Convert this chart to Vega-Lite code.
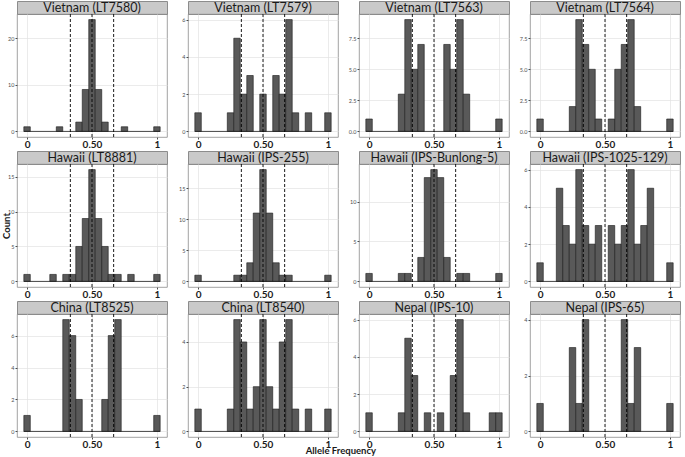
{
"$schema": "https://vega.github.io/schema/vega-lite/v6.json",
"padding": {"left": 1, "top": 0, "right": 2, "bottom": 0},
"background": "white",
"title": {"text": "Allele Frequency", "orient": "bottom", "anchor": "middle", "font": "Lato", "fontSize": 9.5, "fontWeight": "bold", "color": "#1a1a1a", "offset": -3},
"datasets": {
"strips": [{"p":"Vietnam (LT7580)"},{"p":"Vietnam (LT7579)"},{"p":"Vietnam (LT7563)"},{"p":"Vietnam (LT7564)"},{"p":"Hawaii (LT8881)"},{"p":"Hawaii (IPS-255)"},{"p":"Hawaii (IPS-Bunlong-5)"},{"p":"Hawaii (IPS-1025-129)"},{"p":"China (LT8525)"},{"p":"China (LT8540)"},{"p":"Nepal (IPS-10)"},{"p":"Nepal (IPS-65)"}],
"lines": [{"v":0.3333},{"v":0.5},{"v":0.6667}],
"base": [{"x0":-0.025,"x1":1.025,"y":0}],
"h": [
{"p":"Vietnam (LT7580)","lo":-0.025,"hi":0.025,"n":1},
{"p":"Vietnam (LT7580)","lo":0.225,"hi":0.275,"n":1},
{"p":"Vietnam (LT7580)","lo":0.375,"hi":0.425,"n":2},
{"p":"Vietnam (LT7580)","lo":0.425,"hi":0.475,"n":9},
{"p":"Vietnam (LT7580)","lo":0.475,"hi":0.525,"n":24},
{"p":"Vietnam (LT7580)","lo":0.525,"hi":0.575,"n":9},
{"p":"Vietnam (LT7580)","lo":0.575,"hi":0.625,"n":2},
{"p":"Vietnam (LT7580)","lo":0.725,"hi":0.775,"n":1},
{"p":"Vietnam (LT7580)","lo":0.975,"hi":1.025,"n":1},
{"p":"Vietnam (LT7579)","lo":-0.025,"hi":0.025,"n":1},
{"p":"Vietnam (LT7579)","lo":0.225,"hi":0.275,"n":1},
{"p":"Vietnam (LT7579)","lo":0.275,"hi":0.325,"n":5},
{"p":"Vietnam (LT7579)","lo":0.325,"hi":0.375,"n":2},
{"p":"Vietnam (LT7579)","lo":0.375,"hi":0.425,"n":3},
{"p":"Vietnam (LT7579)","lo":0.475,"hi":0.525,"n":2},
{"p":"Vietnam (LT7579)","lo":0.575,"hi":0.625,"n":3},
{"p":"Vietnam (LT7579)","lo":0.625,"hi":0.675,"n":2},
{"p":"Vietnam (LT7579)","lo":0.675,"hi":0.725,"n":6},
{"p":"Vietnam (LT7579)","lo":0.725,"hi":0.775,"n":1},
{"p":"Vietnam (LT7579)","lo":0.825,"hi":0.875,"n":1},
{"p":"Vietnam (LT7579)","lo":0.975,"hi":1.025,"n":1},
{"p":"Vietnam (LT7563)","lo":-0.025,"hi":0.025,"n":1},
{"p":"Vietnam (LT7563)","lo":0.225,"hi":0.275,"n":3},
{"p":"Vietnam (LT7563)","lo":0.275,"hi":0.325,"n":9},
{"p":"Vietnam (LT7563)","lo":0.325,"hi":0.375,"n":5},
{"p":"Vietnam (LT7563)","lo":0.375,"hi":0.425,"n":7},
{"p":"Vietnam (LT7563)","lo":0.575,"hi":0.625,"n":7},
{"p":"Vietnam (LT7563)","lo":0.625,"hi":0.675,"n":5},
{"p":"Vietnam (LT7563)","lo":0.675,"hi":0.725,"n":9},
{"p":"Vietnam (LT7563)","lo":0.725,"hi":0.775,"n":3},
{"p":"Vietnam (LT7563)","lo":0.975,"hi":1.025,"n":1},
{"p":"Vietnam (LT7564)","lo":-0.025,"hi":0.025,"n":1},
{"p":"Vietnam (LT7564)","lo":0.225,"hi":0.275,"n":2},
{"p":"Vietnam (LT7564)","lo":0.275,"hi":0.325,"n":9},
{"p":"Vietnam (LT7564)","lo":0.325,"hi":0.375,"n":7},
{"p":"Vietnam (LT7564)","lo":0.375,"hi":0.425,"n":5},
{"p":"Vietnam (LT7564)","lo":0.425,"hi":0.475,"n":1},
{"p":"Vietnam (LT7564)","lo":0.525,"hi":0.575,"n":1},
{"p":"Vietnam (LT7564)","lo":0.575,"hi":0.625,"n":5},
{"p":"Vietnam (LT7564)","lo":0.625,"hi":0.675,"n":7},
{"p":"Vietnam (LT7564)","lo":0.675,"hi":0.725,"n":9},
{"p":"Vietnam (LT7564)","lo":0.725,"hi":0.775,"n":2},
{"p":"Vietnam (LT7564)","lo":0.975,"hi":1.025,"n":1},
{"p":"Hawaii (LT8881)","lo":-0.025,"hi":0.025,"n":1},
{"p":"Hawaii (LT8881)","lo":0.175,"hi":0.225,"n":1},
{"p":"Hawaii (LT8881)","lo":0.275,"hi":0.325,"n":1},
{"p":"Hawaii (LT8881)","lo":0.325,"hi":0.375,"n":1},
{"p":"Hawaii (LT8881)","lo":0.375,"hi":0.425,"n":5},
{"p":"Hawaii (LT8881)","lo":0.425,"hi":0.475,"n":9},
{"p":"Hawaii (LT8881)","lo":0.475,"hi":0.525,"n":16},
{"p":"Hawaii (LT8881)","lo":0.525,"hi":0.575,"n":9},
{"p":"Hawaii (LT8881)","lo":0.575,"hi":0.625,"n":5},
{"p":"Hawaii (LT8881)","lo":0.625,"hi":0.675,"n":1},
{"p":"Hawaii (LT8881)","lo":0.675,"hi":0.725,"n":1},
{"p":"Hawaii (LT8881)","lo":0.775,"hi":0.825,"n":1},
{"p":"Hawaii (LT8881)","lo":0.975,"hi":1.025,"n":1},
{"p":"Hawaii (IPS-255)","lo":-0.025,"hi":0.025,"n":1},
{"p":"Hawaii (IPS-255)","lo":0.275,"hi":0.325,"n":1},
{"p":"Hawaii (IPS-255)","lo":0.325,"hi":0.375,"n":1},
{"p":"Hawaii (IPS-255)","lo":0.375,"hi":0.425,"n":3},
{"p":"Hawaii (IPS-255)","lo":0.425,"hi":0.475,"n":11},
{"p":"Hawaii (IPS-255)","lo":0.475,"hi":0.525,"n":18},
{"p":"Hawaii (IPS-255)","lo":0.525,"hi":0.575,"n":11},
{"p":"Hawaii (IPS-255)","lo":0.575,"hi":0.625,"n":3},
{"p":"Hawaii (IPS-255)","lo":0.625,"hi":0.675,"n":1},
{"p":"Hawaii (IPS-255)","lo":0.675,"hi":0.725,"n":1},
{"p":"Hawaii (IPS-255)","lo":0.975,"hi":1.025,"n":1},
{"p":"Hawaii (IPS-Bunlong-5)","lo":-0.025,"hi":0.025,"n":1},
{"p":"Hawaii (IPS-Bunlong-5)","lo":0.225,"hi":0.275,"n":1},
{"p":"Hawaii (IPS-Bunlong-5)","lo":0.275,"hi":0.325,"n":1},
{"p":"Hawaii (IPS-Bunlong-5)","lo":0.375,"hi":0.425,"n":3},
{"p":"Hawaii (IPS-Bunlong-5)","lo":0.425,"hi":0.475,"n":13},
{"p":"Hawaii (IPS-Bunlong-5)","lo":0.475,"hi":0.525,"n":14},
{"p":"Hawaii (IPS-Bunlong-5)","lo":0.525,"hi":0.575,"n":13},
{"p":"Hawaii (IPS-Bunlong-5)","lo":0.575,"hi":0.625,"n":3},
{"p":"Hawaii (IPS-Bunlong-5)","lo":0.675,"hi":0.725,"n":1},
{"p":"Hawaii (IPS-Bunlong-5)","lo":0.725,"hi":0.775,"n":1},
{"p":"Hawaii (IPS-Bunlong-5)","lo":0.975,"hi":1.025,"n":1},
{"p":"Hawaii (IPS-1025-129)","lo":-0.025,"hi":0.025,"n":1},
{"p":"Hawaii (IPS-1025-129)","lo":0.125,"hi":0.175,"n":5},
{"p":"Hawaii (IPS-1025-129)","lo":0.175,"hi":0.225,"n":3},
{"p":"Hawaii (IPS-1025-129)","lo":0.225,"hi":0.275,"n":2},
{"p":"Hawaii (IPS-1025-129)","lo":0.275,"hi":0.325,"n":6},
{"p":"Hawaii (IPS-1025-129)","lo":0.325,"hi":0.375,"n":3},
{"p":"Hawaii (IPS-1025-129)","lo":0.375,"hi":0.425,"n":2},
{"p":"Hawaii (IPS-1025-129)","lo":0.425,"hi":0.475,"n":3},
{"p":"Hawaii (IPS-1025-129)","lo":0.525,"hi":0.575,"n":3},
{"p":"Hawaii (IPS-1025-129)","lo":0.575,"hi":0.625,"n":2},
{"p":"Hawaii (IPS-1025-129)","lo":0.625,"hi":0.675,"n":3},
{"p":"Hawaii (IPS-1025-129)","lo":0.675,"hi":0.725,"n":6},
{"p":"Hawaii (IPS-1025-129)","lo":0.725,"hi":0.775,"n":2},
{"p":"Hawaii (IPS-1025-129)","lo":0.775,"hi":0.825,"n":3},
{"p":"Hawaii (IPS-1025-129)","lo":0.825,"hi":0.875,"n":5},
{"p":"Hawaii (IPS-1025-129)","lo":0.975,"hi":1.025,"n":1},
{"p":"China (LT8525)","lo":-0.025,"hi":0.025,"n":1},
{"p":"China (LT8525)","lo":0.275,"hi":0.325,"n":7},
{"p":"China (LT8525)","lo":0.325,"hi":0.375,"n":6},
{"p":"China (LT8525)","lo":0.375,"hi":0.425,"n":2},
{"p":"China (LT8525)","lo":0.575,"hi":0.625,"n":2},
{"p":"China (LT8525)","lo":0.625,"hi":0.675,"n":6},
{"p":"China (LT8525)","lo":0.675,"hi":0.725,"n":7},
{"p":"China (LT8525)","lo":0.975,"hi":1.025,"n":1},
{"p":"China (LT8540)","lo":-0.025,"hi":0.025,"n":1},
{"p":"China (LT8540)","lo":0.225,"hi":0.275,"n":1},
{"p":"China (LT8540)","lo":0.275,"hi":0.325,"n":5},
{"p":"China (LT8540)","lo":0.325,"hi":0.375,"n":4},
{"p":"China (LT8540)","lo":0.375,"hi":0.425,"n":1},
{"p":"China (LT8540)","lo":0.425,"hi":0.475,"n":2},
{"p":"China (LT8540)","lo":0.475,"hi":0.525,"n":5},
{"p":"China (LT8540)","lo":0.525,"hi":0.575,"n":2},
{"p":"China (LT8540)","lo":0.575,"hi":0.625,"n":1},
{"p":"China (LT8540)","lo":0.625,"hi":0.675,"n":4},
{"p":"China (LT8540)","lo":0.675,"hi":0.725,"n":5},
{"p":"China (LT8540)","lo":0.725,"hi":0.775,"n":1},
{"p":"China (LT8540)","lo":0.825,"hi":0.875,"n":1},
{"p":"China (LT8540)","lo":0.975,"hi":1.025,"n":1},
{"p":"Nepal (IPS-10)","lo":-0.025,"hi":0.025,"n":1},
{"p":"Nepal (IPS-10)","lo":0.225,"hi":0.275,"n":1},
{"p":"Nepal (IPS-10)","lo":0.275,"hi":0.325,"n":5},
{"p":"Nepal (IPS-10)","lo":0.325,"hi":0.375,"n":3},
{"p":"Nepal (IPS-10)","lo":0.425,"hi":0.475,"n":1},
{"p":"Nepal (IPS-10)","lo":0.525,"hi":0.575,"n":1},
{"p":"Nepal (IPS-10)","lo":0.625,"hi":0.675,"n":3},
{"p":"Nepal (IPS-10)","lo":0.675,"hi":0.725,"n":6},
{"p":"Nepal (IPS-10)","lo":0.725,"hi":0.775,"n":1},
{"p":"Nepal (IPS-10)","lo":0.925,"hi":0.975,"n":1},
{"p":"Nepal (IPS-10)","lo":0.975,"hi":1.025,"n":1},
{"p":"Nepal (IPS-65)","lo":-0.025,"hi":0.025,"n":1},
{"p":"Nepal (IPS-65)","lo":0.225,"hi":0.275,"n":3},
{"p":"Nepal (IPS-65)","lo":0.275,"hi":0.325,"n":1},
{"p":"Nepal (IPS-65)","lo":0.325,"hi":0.375,"n":4},
{"p":"Nepal (IPS-65)","lo":0.625,"hi":0.675,"n":4},
{"p":"Nepal (IPS-65)","lo":0.675,"hi":0.725,"n":1},
{"p":"Nepal (IPS-65)","lo":0.725,"hi":0.775,"n":3},
{"p":"Nepal (IPS-65)","lo":0.975,"hi":1.025,"n":1}
]
},
"columns": 4,
"spacing": {"row": 0, "column": 7},
"concat": [
{"vconcat": [
 {"width":150,"height":13,"data":{"name":"strips"},"transform":[{"filter":"datum.p=='Vietnam (LT7580)'"}],"view":{"fill":"#c9c9c9","stroke":"#8c8c8c"},"mark":{"type":"text","font":"Lato","fontSize":12.5,"color":"#1a1a1a","baseline":"middle"},"encoding":{"text":{"field":"p"}}},
 {"width":150,"height":123,"layer":[
  {"data":{"name":"h"},"transform":[{"filter":"datum.p=='Vietnam (LT7580)'"}],"mark":{"type":"rect","fill":"#595959","stroke":"#1a1a1a","strokeWidth":0.6},
   "encoding":{"x":{"field":"lo","type":"quantitative","scale":{"domain":[-0.0775,1.0775],"nice":false,"zero":false},"axis":{"title":null,"values":[0,0.125,0.25,0.375,0.5,0.625,0.75,0.875,1],"labelExpr":"indexof([0.125,0.375,0.625,0.875], datum.value) >= 0 ? '' : datum.value == 0 ? '0' : datum.value == 1 ? '1' : format(datum.value, '.2f')","gridWidth":{"condition":{"test":"indexof([0.125,0.375,0.625,0.875], datum.value) >= 0","value":0.35},"value":0.7},"tickOpacity":{"condition":{"test":"indexof([0.125,0.375,0.625,0.875], datum.value) >= 0","value":0},"value":1}}},
   "x2":{"field":"hi"},
   "y":{"field":"n","type":"quantitative","scale":{"domain":[-1.2,25.2],"nice":false,"zero":false},"axis":{"title":null,"values":[0,2.5,5,7.5,10,12.5,15,17.5,20,22.5,25],"labelExpr":"datum.value % 5 == 0 ? format(datum.value, 'd') : ''","gridWidth":{"condition":{"test":"datum.value % 5 != 0","value":0.35},"value":0.7},"tickOpacity":{"condition":{"test":"datum.value % 5 != 0","value":0},"value":1}}},
   "y2":{"datum":0}}},
  {"data":{"name":"base"},"mark":{"type":"rule","color":"#1a1a1a","strokeWidth":0.8},"encoding":{"x":{"field":"x0","type":"quantitative","axis":{"title":null}},"x2":{"field":"x1"},"y":{"field":"y","type":"quantitative","axis":{"title":null}}}},
  {"data":{"name":"lines"},"mark":{"type":"rule","color":"#000000","strokeWidth":0.9,"strokeDash":[3,2]},"encoding":{"x":{"field":"v","type":"quantitative","axis":{"title":null}}}}
 ]}
], "spacing": 0, "bounds": "flush"},
{"vconcat": [
 {"width":150,"height":13,"data":{"name":"strips"},"transform":[{"filter":"datum.p=='Vietnam (LT7579)'"}],"view":{"fill":"#c9c9c9","stroke":"#8c8c8c"},"mark":{"type":"text","font":"Lato","fontSize":12.5,"color":"#1a1a1a","baseline":"middle"},"encoding":{"text":{"field":"p"}}},
 {"width":150,"height":123,"layer":[
  {"data":{"name":"h"},"transform":[{"filter":"datum.p=='Vietnam (LT7579)'"}],"mark":{"type":"rect","fill":"#595959","stroke":"#1a1a1a","strokeWidth":0.6},
   "encoding":{"x":{"field":"lo","type":"quantitative","scale":{"domain":[-0.0775,1.0775],"nice":false,"zero":false},"axis":{"title":null,"values":[0,0.125,0.25,0.375,0.5,0.625,0.75,0.875,1],"labelExpr":"indexof([0.125,0.375,0.625,0.875], datum.value) >= 0 ? '' : datum.value == 0 ? '0' : datum.value == 1 ? '1' : format(datum.value, '.2f')","gridWidth":{"condition":{"test":"indexof([0.125,0.375,0.625,0.875], datum.value) >= 0","value":0.35},"value":0.7},"tickOpacity":{"condition":{"test":"indexof([0.125,0.375,0.625,0.875], datum.value) >= 0","value":0},"value":1}}},
   "x2":{"field":"hi"},
   "y":{"field":"n","type":"quantitative","scale":{"domain":[-0.3,6.3],"nice":false,"zero":false},"axis":{"title":null,"values":[0,1,2,3,4,5,6],"labelExpr":"datum.value % 2 == 0 ? format(datum.value, 'd') : ''","gridWidth":{"condition":{"test":"datum.value % 2 != 0","value":0.35},"value":0.7},"tickOpacity":{"condition":{"test":"datum.value % 2 != 0","value":0},"value":1}}},
   "y2":{"datum":0}}},
  {"data":{"name":"base"},"mark":{"type":"rule","color":"#1a1a1a","strokeWidth":0.8},"encoding":{"x":{"field":"x0","type":"quantitative","axis":{"title":null}},"x2":{"field":"x1"},"y":{"field":"y","type":"quantitative","axis":{"title":null}}}},
  {"data":{"name":"lines"},"mark":{"type":"rule","color":"#000000","strokeWidth":0.9,"strokeDash":[3,2]},"encoding":{"x":{"field":"v","type":"quantitative","axis":{"title":null}}}}
 ]}
], "spacing": 0, "bounds": "flush"},
{"vconcat": [
 {"width":150,"height":13,"data":{"name":"strips"},"transform":[{"filter":"datum.p=='Vietnam (LT7563)'"}],"view":{"fill":"#c9c9c9","stroke":"#8c8c8c"},"mark":{"type":"text","font":"Lato","fontSize":12.5,"color":"#1a1a1a","baseline":"middle"},"encoding":{"text":{"field":"p"}}},
 {"width":150,"height":123,"layer":[
  {"data":{"name":"h"},"transform":[{"filter":"datum.p=='Vietnam (LT7563)'"}],"mark":{"type":"rect","fill":"#595959","stroke":"#1a1a1a","strokeWidth":0.6},
   "encoding":{"x":{"field":"lo","type":"quantitative","scale":{"domain":[-0.0775,1.0775],"nice":false,"zero":false},"axis":{"title":null,"values":[0,0.125,0.25,0.375,0.5,0.625,0.75,0.875,1],"labelExpr":"indexof([0.125,0.375,0.625,0.875], datum.value) >= 0 ? '' : datum.value == 0 ? '0' : datum.value == 1 ? '1' : format(datum.value, '.2f')","gridWidth":{"condition":{"test":"indexof([0.125,0.375,0.625,0.875], datum.value) >= 0","value":0.35},"value":0.7},"tickOpacity":{"condition":{"test":"indexof([0.125,0.375,0.625,0.875], datum.value) >= 0","value":0},"value":1}}},
   "x2":{"field":"hi"},
   "y":{"field":"n","type":"quantitative","scale":{"domain":[-0.45,9.45],"nice":false,"zero":false},"axis":{"title":null,"values":[0,1.25,2.5,3.75,5,6.25,7.5,8.75],"labelExpr":"datum.value % 2.5 == 0 ? format(datum.value, '.1f') : ''","gridWidth":{"condition":{"test":"datum.value % 2.5 != 0","value":0.35},"value":0.7},"tickOpacity":{"condition":{"test":"datum.value % 2.5 != 0","value":0},"value":1}}},
   "y2":{"datum":0}}},
  {"data":{"name":"base"},"mark":{"type":"rule","color":"#1a1a1a","strokeWidth":0.8},"encoding":{"x":{"field":"x0","type":"quantitative","axis":{"title":null}},"x2":{"field":"x1"},"y":{"field":"y","type":"quantitative","axis":{"title":null}}}},
  {"data":{"name":"lines"},"mark":{"type":"rule","color":"#000000","strokeWidth":0.9,"strokeDash":[3,2]},"encoding":{"x":{"field":"v","type":"quantitative","axis":{"title":null}}}}
 ]}
], "spacing": 0, "bounds": "flush"},
{"vconcat": [
 {"width":150,"height":13,"data":{"name":"strips"},"transform":[{"filter":"datum.p=='Vietnam (LT7564)'"}],"view":{"fill":"#c9c9c9","stroke":"#8c8c8c"},"mark":{"type":"text","font":"Lato","fontSize":12.5,"color":"#1a1a1a","baseline":"middle"},"encoding":{"text":{"field":"p"}}},
 {"width":150,"height":123,"layer":[
  {"data":{"name":"h"},"transform":[{"filter":"datum.p=='Vietnam (LT7564)'"}],"mark":{"type":"rect","fill":"#595959","stroke":"#1a1a1a","strokeWidth":0.6},
   "encoding":{"x":{"field":"lo","type":"quantitative","scale":{"domain":[-0.0775,1.0775],"nice":false,"zero":false},"axis":{"title":null,"values":[0,0.125,0.25,0.375,0.5,0.625,0.75,0.875,1],"labelExpr":"indexof([0.125,0.375,0.625,0.875], datum.value) >= 0 ? '' : datum.value == 0 ? '0' : datum.value == 1 ? '1' : format(datum.value, '.2f')","gridWidth":{"condition":{"test":"indexof([0.125,0.375,0.625,0.875], datum.value) >= 0","value":0.35},"value":0.7},"tickOpacity":{"condition":{"test":"indexof([0.125,0.375,0.625,0.875], datum.value) >= 0","value":0},"value":1}}},
   "x2":{"field":"hi"},
   "y":{"field":"n","type":"quantitative","scale":{"domain":[-0.45,9.45],"nice":false,"zero":false},"axis":{"title":null,"values":[0,1.25,2.5,3.75,5,6.25,7.5,8.75],"labelExpr":"datum.value % 2.5 == 0 ? format(datum.value, '.1f') : ''","gridWidth":{"condition":{"test":"datum.value % 2.5 != 0","value":0.35},"value":0.7},"tickOpacity":{"condition":{"test":"datum.value % 2.5 != 0","value":0},"value":1}}},
   "y2":{"datum":0}}},
  {"data":{"name":"base"},"mark":{"type":"rule","color":"#1a1a1a","strokeWidth":0.8},"encoding":{"x":{"field":"x0","type":"quantitative","axis":{"title":null}},"x2":{"field":"x1"},"y":{"field":"y","type":"quantitative","axis":{"title":null}}}},
  {"data":{"name":"lines"},"mark":{"type":"rule","color":"#000000","strokeWidth":0.9,"strokeDash":[3,2]},"encoding":{"x":{"field":"v","type":"quantitative","axis":{"title":null}}}}
 ]}
], "spacing": 0, "bounds": "flush"},
{"vconcat": [
 {"width":150,"height":13,"data":{"name":"strips"},"transform":[{"filter":"datum.p=='Hawaii (LT8881)'"}],"view":{"fill":"#c9c9c9","stroke":"#8c8c8c"},"mark":{"type":"text","font":"Lato","fontSize":12.5,"color":"#1a1a1a","baseline":"middle"},"encoding":{"text":{"field":"p"}}},
 {"width":150,"height":123,"layer":[
  {"data":{"name":"h"},"transform":[{"filter":"datum.p=='Hawaii (LT8881)'"}],"mark":{"type":"rect","fill":"#595959","stroke":"#1a1a1a","strokeWidth":0.6},
   "encoding":{"x":{"field":"lo","type":"quantitative","scale":{"domain":[-0.0775,1.0775],"nice":false,"zero":false},"axis":{"title":null,"values":[0,0.125,0.25,0.375,0.5,0.625,0.75,0.875,1],"labelExpr":"indexof([0.125,0.375,0.625,0.875], datum.value) >= 0 ? '' : datum.value == 0 ? '0' : datum.value == 1 ? '1' : format(datum.value, '.2f')","gridWidth":{"condition":{"test":"indexof([0.125,0.375,0.625,0.875], datum.value) >= 0","value":0.35},"value":0.7},"tickOpacity":{"condition":{"test":"indexof([0.125,0.375,0.625,0.875], datum.value) >= 0","value":0},"value":1}}},
   "x2":{"field":"hi"},
   "y":{"field":"n","type":"quantitative","scale":{"domain":[-0.8,16.8],"nice":false,"zero":false},"axis":{"title":"Count","titleFont":"Lato","titleFontSize":9.5,"titleFontWeight":"bold","titleColor":"#1a1a1a","titlePadding":-4,"minExtent":0,"values":[0,2.5,5,7.5,10,12.5,15],"labelExpr":"datum.value % 5 == 0 ? format(datum.value, 'd') : ''","gridWidth":{"condition":{"test":"datum.value % 5 != 0","value":0.35},"value":0.7},"tickOpacity":{"condition":{"test":"datum.value % 5 != 0","value":0},"value":1}}},
   "y2":{"datum":0}}},
  {"data":{"name":"base"},"mark":{"type":"rule","color":"#1a1a1a","strokeWidth":0.8},"encoding":{"x":{"field":"x0","type":"quantitative","axis":{"title":null}},"x2":{"field":"x1"},"y":{"field":"y","type":"quantitative","axis":{"title":"Count"}}}},
  {"data":{"name":"lines"},"mark":{"type":"rule","color":"#000000","strokeWidth":0.9,"strokeDash":[3,2]},"encoding":{"x":{"field":"v","type":"quantitative","axis":{"title":null}}}}
 ]}
], "spacing": 0, "bounds": "flush"},
{"vconcat": [
 {"width":150,"height":13,"data":{"name":"strips"},"transform":[{"filter":"datum.p=='Hawaii (IPS-255)'"}],"view":{"fill":"#c9c9c9","stroke":"#8c8c8c"},"mark":{"type":"text","font":"Lato","fontSize":12.5,"color":"#1a1a1a","baseline":"middle"},"encoding":{"text":{"field":"p"}}},
 {"width":150,"height":123,"layer":[
  {"data":{"name":"h"},"transform":[{"filter":"datum.p=='Hawaii (IPS-255)'"}],"mark":{"type":"rect","fill":"#595959","stroke":"#1a1a1a","strokeWidth":0.6},
   "encoding":{"x":{"field":"lo","type":"quantitative","scale":{"domain":[-0.0775,1.0775],"nice":false,"zero":false},"axis":{"title":null,"values":[0,0.125,0.25,0.375,0.5,0.625,0.75,0.875,1],"labelExpr":"indexof([0.125,0.375,0.625,0.875], datum.value) >= 0 ? '' : datum.value == 0 ? '0' : datum.value == 1 ? '1' : format(datum.value, '.2f')","gridWidth":{"condition":{"test":"indexof([0.125,0.375,0.625,0.875], datum.value) >= 0","value":0.35},"value":0.7},"tickOpacity":{"condition":{"test":"indexof([0.125,0.375,0.625,0.875], datum.value) >= 0","value":0},"value":1}}},
   "x2":{"field":"hi"},
   "y":{"field":"n","type":"quantitative","scale":{"domain":[-0.9,18.9],"nice":false,"zero":false},"axis":{"title":null,"values":[0,2.5,5,7.5,10,12.5,15,17.5],"labelExpr":"datum.value % 5 == 0 ? format(datum.value, 'd') : ''","gridWidth":{"condition":{"test":"datum.value % 5 != 0","value":0.35},"value":0.7},"tickOpacity":{"condition":{"test":"datum.value % 5 != 0","value":0},"value":1}}},
   "y2":{"datum":0}}},
  {"data":{"name":"base"},"mark":{"type":"rule","color":"#1a1a1a","strokeWidth":0.8},"encoding":{"x":{"field":"x0","type":"quantitative","axis":{"title":null}},"x2":{"field":"x1"},"y":{"field":"y","type":"quantitative","axis":{"title":null}}}},
  {"data":{"name":"lines"},"mark":{"type":"rule","color":"#000000","strokeWidth":0.9,"strokeDash":[3,2]},"encoding":{"x":{"field":"v","type":"quantitative","axis":{"title":null}}}}
 ]}
], "spacing": 0, "bounds": "flush"},
{"vconcat": [
 {"width":150,"height":13,"data":{"name":"strips"},"transform":[{"filter":"datum.p=='Hawaii (IPS-Bunlong-5)'"}],"view":{"fill":"#c9c9c9","stroke":"#8c8c8c"},"mark":{"type":"text","font":"Lato","fontSize":12.5,"color":"#1a1a1a","baseline":"middle"},"encoding":{"text":{"field":"p"}}},
 {"width":150,"height":123,"layer":[
  {"data":{"name":"h"},"transform":[{"filter":"datum.p=='Hawaii (IPS-Bunlong-5)'"}],"mark":{"type":"rect","fill":"#595959","stroke":"#1a1a1a","strokeWidth":0.6},
   "encoding":{"x":{"field":"lo","type":"quantitative","scale":{"domain":[-0.0775,1.0775],"nice":false,"zero":false},"axis":{"title":null,"values":[0,0.125,0.25,0.375,0.5,0.625,0.75,0.875,1],"labelExpr":"indexof([0.125,0.375,0.625,0.875], datum.value) >= 0 ? '' : datum.value == 0 ? '0' : datum.value == 1 ? '1' : format(datum.value, '.2f')","gridWidth":{"condition":{"test":"indexof([0.125,0.375,0.625,0.875], datum.value) >= 0","value":0.35},"value":0.7},"tickOpacity":{"condition":{"test":"indexof([0.125,0.375,0.625,0.875], datum.value) >= 0","value":0},"value":1}}},
   "x2":{"field":"hi"},
   "y":{"field":"n","type":"quantitative","scale":{"domain":[-0.7,14.7],"nice":false,"zero":false},"axis":{"title":null,"values":[0,2.5,5,7.5,10,12.5],"labelExpr":"datum.value % 5 == 0 ? format(datum.value, 'd') : ''","gridWidth":{"condition":{"test":"datum.value % 5 != 0","value":0.35},"value":0.7},"tickOpacity":{"condition":{"test":"datum.value % 5 != 0","value":0},"value":1}}},
   "y2":{"datum":0}}},
  {"data":{"name":"base"},"mark":{"type":"rule","color":"#1a1a1a","strokeWidth":0.8},"encoding":{"x":{"field":"x0","type":"quantitative","axis":{"title":null}},"x2":{"field":"x1"},"y":{"field":"y","type":"quantitative","axis":{"title":null}}}},
  {"data":{"name":"lines"},"mark":{"type":"rule","color":"#000000","strokeWidth":0.9,"strokeDash":[3,2]},"encoding":{"x":{"field":"v","type":"quantitative","axis":{"title":null}}}}
 ]}
], "spacing": 0, "bounds": "flush"},
{"vconcat": [
 {"width":150,"height":13,"data":{"name":"strips"},"transform":[{"filter":"datum.p=='Hawaii (IPS-1025-129)'"}],"view":{"fill":"#c9c9c9","stroke":"#8c8c8c"},"mark":{"type":"text","font":"Lato","fontSize":12.5,"color":"#1a1a1a","baseline":"middle"},"encoding":{"text":{"field":"p"}}},
 {"width":150,"height":123,"layer":[
  {"data":{"name":"h"},"transform":[{"filter":"datum.p=='Hawaii (IPS-1025-129)'"}],"mark":{"type":"rect","fill":"#595959","stroke":"#1a1a1a","strokeWidth":0.6},
   "encoding":{"x":{"field":"lo","type":"quantitative","scale":{"domain":[-0.0775,1.0775],"nice":false,"zero":false},"axis":{"title":null,"values":[0,0.125,0.25,0.375,0.5,0.625,0.75,0.875,1],"labelExpr":"indexof([0.125,0.375,0.625,0.875], datum.value) >= 0 ? '' : datum.value == 0 ? '0' : datum.value == 1 ? '1' : format(datum.value, '.2f')","gridWidth":{"condition":{"test":"indexof([0.125,0.375,0.625,0.875], datum.value) >= 0","value":0.35},"value":0.7},"tickOpacity":{"condition":{"test":"indexof([0.125,0.375,0.625,0.875], datum.value) >= 0","value":0},"value":1}}},
   "x2":{"field":"hi"},
   "y":{"field":"n","type":"quantitative","scale":{"domain":[-0.3,6.3],"nice":false,"zero":false},"axis":{"title":null,"values":[0,1,2,3,4,5,6],"labelExpr":"datum.value % 2 == 0 ? format(datum.value, 'd') : ''","gridWidth":{"condition":{"test":"datum.value % 2 != 0","value":0.35},"value":0.7},"tickOpacity":{"condition":{"test":"datum.value % 2 != 0","value":0},"value":1}}},
   "y2":{"datum":0}}},
  {"data":{"name":"base"},"mark":{"type":"rule","color":"#1a1a1a","strokeWidth":0.8},"encoding":{"x":{"field":"x0","type":"quantitative","axis":{"title":null}},"x2":{"field":"x1"},"y":{"field":"y","type":"quantitative","axis":{"title":null}}}},
  {"data":{"name":"lines"},"mark":{"type":"rule","color":"#000000","strokeWidth":0.9,"strokeDash":[3,2]},"encoding":{"x":{"field":"v","type":"quantitative","axis":{"title":null}}}}
 ]}
], "spacing": 0, "bounds": "flush"},
{"vconcat": [
 {"width":150,"height":13,"data":{"name":"strips"},"transform":[{"filter":"datum.p=='China (LT8525)'"}],"view":{"fill":"#c9c9c9","stroke":"#8c8c8c"},"mark":{"type":"text","font":"Lato","fontSize":12.5,"color":"#1a1a1a","baseline":"middle"},"encoding":{"text":{"field":"p"}}},
 {"width":150,"height":123,"layer":[
  {"data":{"name":"h"},"transform":[{"filter":"datum.p=='China (LT8525)'"}],"mark":{"type":"rect","fill":"#595959","stroke":"#1a1a1a","strokeWidth":0.6},
   "encoding":{"x":{"field":"lo","type":"quantitative","scale":{"domain":[-0.0775,1.0775],"nice":false,"zero":false},"axis":{"title":null,"values":[0,0.125,0.25,0.375,0.5,0.625,0.75,0.875,1],"labelExpr":"indexof([0.125,0.375,0.625,0.875], datum.value) >= 0 ? '' : datum.value == 0 ? '0' : datum.value == 1 ? '1' : format(datum.value, '.2f')","gridWidth":{"condition":{"test":"indexof([0.125,0.375,0.625,0.875], datum.value) >= 0","value":0.35},"value":0.7},"tickOpacity":{"condition":{"test":"indexof([0.125,0.375,0.625,0.875], datum.value) >= 0","value":0},"value":1}}},
   "x2":{"field":"hi"},
   "y":{"field":"n","type":"quantitative","scale":{"domain":[-0.35,7.35],"nice":false,"zero":false},"axis":{"title":null,"values":[0,1,2,3,4,5,6,7],"labelExpr":"datum.value % 2 == 0 ? format(datum.value, 'd') : ''","gridWidth":{"condition":{"test":"datum.value % 2 != 0","value":0.35},"value":0.7},"tickOpacity":{"condition":{"test":"datum.value % 2 != 0","value":0},"value":1}}},
   "y2":{"datum":0}}},
  {"data":{"name":"base"},"mark":{"type":"rule","color":"#1a1a1a","strokeWidth":0.8},"encoding":{"x":{"field":"x0","type":"quantitative","axis":{"title":null}},"x2":{"field":"x1"},"y":{"field":"y","type":"quantitative","axis":{"title":null}}}},
  {"data":{"name":"lines"},"mark":{"type":"rule","color":"#000000","strokeWidth":0.9,"strokeDash":[3,2]},"encoding":{"x":{"field":"v","type":"quantitative","axis":{"title":null}}}}
 ]}
], "spacing": 0, "bounds": "flush"},
{"vconcat": [
 {"width":150,"height":13,"data":{"name":"strips"},"transform":[{"filter":"datum.p=='China (LT8540)'"}],"view":{"fill":"#c9c9c9","stroke":"#8c8c8c"},"mark":{"type":"text","font":"Lato","fontSize":12.5,"color":"#1a1a1a","baseline":"middle"},"encoding":{"text":{"field":"p"}}},
 {"width":150,"height":123,"layer":[
  {"data":{"name":"h"},"transform":[{"filter":"datum.p=='China (LT8540)'"}],"mark":{"type":"rect","fill":"#595959","stroke":"#1a1a1a","strokeWidth":0.6},
   "encoding":{"x":{"field":"lo","type":"quantitative","scale":{"domain":[-0.0775,1.0775],"nice":false,"zero":false},"axis":{"title":null,"values":[0,0.125,0.25,0.375,0.5,0.625,0.75,0.875,1],"labelExpr":"indexof([0.125,0.375,0.625,0.875], datum.value) >= 0 ? '' : datum.value == 0 ? '0' : datum.value == 1 ? '1' : format(datum.value, '.2f')","gridWidth":{"condition":{"test":"indexof([0.125,0.375,0.625,0.875], datum.value) >= 0","value":0.35},"value":0.7},"tickOpacity":{"condition":{"test":"indexof([0.125,0.375,0.625,0.875], datum.value) >= 0","value":0},"value":1}}},
   "x2":{"field":"hi"},
   "y":{"field":"n","type":"quantitative","scale":{"domain":[-0.25,5.25],"nice":false,"zero":false},"axis":{"title":null,"values":[0,0.5,1,1.5,2,2.5,3,3.5,4,4.5,5],"labelExpr":"datum.value % 1 == 0 ? format(datum.value, 'd') : ''","gridWidth":{"condition":{"test":"datum.value % 1 != 0","value":0.35},"value":0.7},"tickOpacity":{"condition":{"test":"datum.value % 1 != 0","value":0},"value":1}}},
   "y2":{"datum":0}}},
  {"data":{"name":"base"},"mark":{"type":"rule","color":"#1a1a1a","strokeWidth":0.8},"encoding":{"x":{"field":"x0","type":"quantitative","axis":{"title":null}},"x2":{"field":"x1"},"y":{"field":"y","type":"quantitative","axis":{"title":null}}}},
  {"data":{"name":"lines"},"mark":{"type":"rule","color":"#000000","strokeWidth":0.9,"strokeDash":[3,2]},"encoding":{"x":{"field":"v","type":"quantitative","axis":{"title":null}}}}
 ]}
], "spacing": 0, "bounds": "flush"},
{"vconcat": [
 {"width":150,"height":13,"data":{"name":"strips"},"transform":[{"filter":"datum.p=='Nepal (IPS-10)'"}],"view":{"fill":"#c9c9c9","stroke":"#8c8c8c"},"mark":{"type":"text","font":"Lato","fontSize":12.5,"color":"#1a1a1a","baseline":"middle"},"encoding":{"text":{"field":"p"}}},
 {"width":150,"height":123,"layer":[
  {"data":{"name":"h"},"transform":[{"filter":"datum.p=='Nepal (IPS-10)'"}],"mark":{"type":"rect","fill":"#595959","stroke":"#1a1a1a","strokeWidth":0.6},
   "encoding":{"x":{"field":"lo","type":"quantitative","scale":{"domain":[-0.0775,1.0775],"nice":false,"zero":false},"axis":{"title":null,"values":[0,0.125,0.25,0.375,0.5,0.625,0.75,0.875,1],"labelExpr":"indexof([0.125,0.375,0.625,0.875], datum.value) >= 0 ? '' : datum.value == 0 ? '0' : datum.value == 1 ? '1' : format(datum.value, '.2f')","gridWidth":{"condition":{"test":"indexof([0.125,0.375,0.625,0.875], datum.value) >= 0","value":0.35},"value":0.7},"tickOpacity":{"condition":{"test":"indexof([0.125,0.375,0.625,0.875], datum.value) >= 0","value":0},"value":1}}},
   "x2":{"field":"hi"},
   "y":{"field":"n","type":"quantitative","scale":{"domain":[-0.3,6.3],"nice":false,"zero":false},"axis":{"title":null,"values":[0,1,2,3,4,5,6],"labelExpr":"datum.value % 2 == 0 ? format(datum.value, 'd') : ''","gridWidth":{"condition":{"test":"datum.value % 2 != 0","value":0.35},"value":0.7},"tickOpacity":{"condition":{"test":"datum.value % 2 != 0","value":0},"value":1}}},
   "y2":{"datum":0}}},
  {"data":{"name":"base"},"mark":{"type":"rule","color":"#1a1a1a","strokeWidth":0.8},"encoding":{"x":{"field":"x0","type":"quantitative","axis":{"title":null}},"x2":{"field":"x1"},"y":{"field":"y","type":"quantitative","axis":{"title":null}}}},
  {"data":{"name":"lines"},"mark":{"type":"rule","color":"#000000","strokeWidth":0.9,"strokeDash":[3,2]},"encoding":{"x":{"field":"v","type":"quantitative","axis":{"title":null}}}}
 ]}
], "spacing": 0, "bounds": "flush"},
{"vconcat": [
 {"width":150,"height":13,"data":{"name":"strips"},"transform":[{"filter":"datum.p=='Nepal (IPS-65)'"}],"view":{"fill":"#c9c9c9","stroke":"#8c8c8c"},"mark":{"type":"text","font":"Lato","fontSize":12.5,"color":"#1a1a1a","baseline":"middle"},"encoding":{"text":{"field":"p"}}},
 {"width":150,"height":123,"layer":[
  {"data":{"name":"h"},"transform":[{"filter":"datum.p=='Nepal (IPS-65)'"}],"mark":{"type":"rect","fill":"#595959","stroke":"#1a1a1a","strokeWidth":0.6},
   "encoding":{"x":{"field":"lo","type":"quantitative","scale":{"domain":[-0.0775,1.0775],"nice":false,"zero":false},"axis":{"title":null,"values":[0,0.125,0.25,0.375,0.5,0.625,0.75,0.875,1],"labelExpr":"indexof([0.125,0.375,0.625,0.875], datum.value) >= 0 ? '' : datum.value == 0 ? '0' : datum.value == 1 ? '1' : format(datum.value, '.2f')","gridWidth":{"condition":{"test":"indexof([0.125,0.375,0.625,0.875], datum.value) >= 0","value":0.35},"value":0.7},"tickOpacity":{"condition":{"test":"indexof([0.125,0.375,0.625,0.875], datum.value) >= 0","value":0},"value":1}}},
   "x2":{"field":"hi"},
   "y":{"field":"n","type":"quantitative","scale":{"domain":[-0.2,4.2],"nice":false,"zero":false},"axis":{"title":null,"values":[0,0.5,1,1.5,2,2.5,3,3.5,4],"labelExpr":"datum.value % 1 == 0 ? format(datum.value, 'd') : ''","gridWidth":{"condition":{"test":"datum.value % 1 != 0","value":0.35},"value":0.7},"tickOpacity":{"condition":{"test":"datum.value % 1 != 0","value":0},"value":1}}},
   "y2":{"datum":0}}},
  {"data":{"name":"base"},"mark":{"type":"rule","color":"#1a1a1a","strokeWidth":0.8},"encoding":{"x":{"field":"x0","type":"quantitative","axis":{"title":null}},"x2":{"field":"x1"},"y":{"field":"y","type":"quantitative","axis":{"title":null}}}},
  {"data":{"name":"lines"},"mark":{"type":"rule","color":"#000000","strokeWidth":0.9,"strokeDash":[3,2]},"encoding":{"x":{"field":"v","type":"quantitative","axis":{"title":null}}}}
 ]}
], "spacing": 0, "bounds": "flush"}
],
"config": {
 "view": {"stroke": "#8c8c8c", "strokeWidth": 0.8},
 "font": "Lato",
 "axisX": {"labelFont": "Lato", "labelFontWeight": "bold", "labelFontSize": 10, "labelColor": "#1a1a1a", "tickSize": 2, "tickColor": "#4d4d4d", "labelPadding": 0, "domain": false, "gridColor": "#e3e3e3", "labelOverlap": false, "labelFlush": false},
 "axisY": {"labelFont": "Lato", "labelFontSize": 5.5, "labelColor": "#4d4d4d", "tickSize": 2, "tickColor": "#4d4d4d", "labelPadding": 1, "domain": false, "gridColor": "#e3e3e3", "labelOverlap": false, "labelFlush": false, "minExtent": 12}
}
}
